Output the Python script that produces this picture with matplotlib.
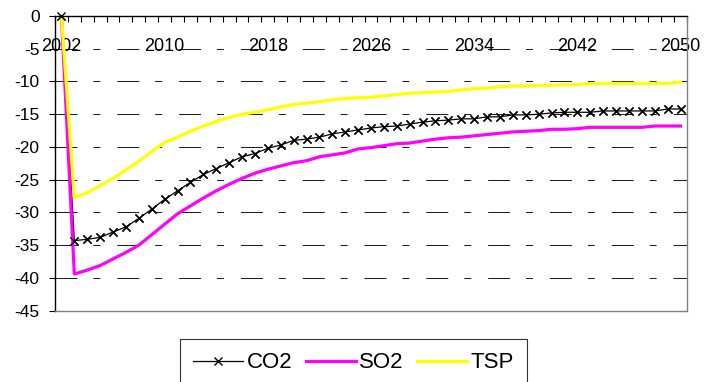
import matplotlib
matplotlib.use("Agg")
import matplotlib.pyplot as plt

plt.rcParams['font.family'] = ['Liberation Sans', 'DejaVu Sans']
plt.rcParams['axes.unicode_minus'] = False
plt.rcParams['lines.scale_dashes'] = False

years = list(range(2002, 2051))

co2 = [0, -34.3, -34.1, -33.8, -33.0, -32.2, -30.9, -29.5, -28.0, -26.7,
       -25.4, -24.2, -23.3, -22.4, -21.5, -21.0, -20.2, -19.7, -19.0, -18.8,
       -18.5, -18.0, -17.7, -17.4, -17.1, -16.9, -16.8, -16.5, -16.2, -16.0,
       -15.9, -15.7, -15.7, -15.4, -15.4, -15.1, -15.1, -15.0, -14.8, -14.7,
       -14.7, -14.7, -14.5, -14.5, -14.5, -14.5, -14.5, -14.2, -14.2]

so2 = [0, -39.4, -38.8, -38.1, -37.1, -36.1, -35.0, -33.4, -31.8, -30.2,
       -29.0, -27.8, -26.7, -25.7, -24.8, -24.0, -23.4, -22.9, -22.4, -22.1,
       -21.5, -21.2, -20.9, -20.3, -20.1, -19.8, -19.5, -19.4, -19.1, -18.8,
       -18.6, -18.5, -18.3, -18.1, -17.9, -17.7, -17.6, -17.5, -17.3, -17.3,
       -17.2, -17.0, -17.0, -17.0, -17.0, -17.0, -16.8, -16.8, -16.8]

tsp = [0, -27.7, -27.0, -25.9, -24.8, -23.5, -22.2, -20.7, -19.3, -18.5,
       -17.6, -16.8, -16.1, -15.5, -15.0, -14.7, -14.3, -13.9, -13.5, -13.3,
       -13.1, -12.8, -12.6, -12.5, -12.4, -12.2, -12.0, -11.8, -11.7, -11.6,
       -11.5, -11.3, -11.1, -11.0, -10.8, -10.7, -10.7, -10.6, -10.6, -10.5,
       -10.5, -10.3, -10.3, -10.3, -10.3, -10.3, -10.3, -10.3, -10.1]

x_tick_labels = ['2002', '2010', '2018', '2026', '2034', '2042', '2050']
y_ticks = [0, -5, -10, -15, -20, -25, -30, -35, -40, -45]
y_tick_labels = ['0', '-5', '-10', '-15', '-20', '-25', '-30', '-35', '-40', '-45']

W, H = 707, 382
fig = plt.figure(figsize=(W / 100, H / 100), dpi=100)
left, right, top, bottom = 55, 687, 16, 310.7
ax = fig.add_axes([left / W, 1 - bottom / H, (right - left) / W, (bottom - top) / H])

xpos = list(range(len(years)))
ax.plot(xpos, co2, color='black', lw=0.9, marker='x', markersize=6,
        markeredgewidth=1.0, label='CO2', zorder=3)
ax.plot(xpos, so2, color='#FF00FF', lw=2.3, label='SO2', zorder=4)
ax.plot(xpos, tsp, color='#FFFF00', lw=2.3, label='TSP', zorder=5)
# CO2 markers drawn on top (visible over the other series at the start)
ax.plot(xpos, co2, color='black', lw=0, marker='x', markersize=6,
        markeredgewidth=1.0, zorder=7, clip_on=False)

ax.set_xlim(-0.5, len(years) - 0.5)
ax.set_ylim(-45, 0)

# gridlines
for yv in y_ticks[1:-1]:
    ax.axhline(yv, color='#202020', lw=0.75, dashes=(15.8, 11.5, 5.0, 12.2), zorder=1)

# y axis
ax.set_yticks(y_ticks)
ax.set_yticklabels(y_tick_labels)
ax.tick_params(axis='y', direction='out', length=4, width=0.8, pad=7,
               labelsize=12.5, color='black')

# x axis on top (value 0)
label_idx = [years.index(int(s)) for s in x_tick_labels]
ax.set_xticks(label_idx)
ax.set_xticklabels(x_tick_labels)
ax.set_xticks([i - 0.5 for i in range(len(years) + 1)], minor=True)
ax.xaxis.set_ticks_position('top')
ax.tick_params(axis='x', which='major', length=0, pad=-28, labelsize=13,
               labeltop=True, labelbottom=False, top=True, bottom=False)
ax.tick_params(axis='x', which='minor', direction='in', length=4.5, width=0.8,
               top=True, bottom=False, color='black')

for s in ['top', 'left']:
    ax.spines[s].set_color('black')
    ax.spines[s].set_linewidth(1.0)
for s in ['right', 'bottom']:
    ax.spines[s].set_color('#808080')
    ax.spines[s].set_linewidth(1.0)
ax.spines['top'].set_zorder(6)

leg = fig.legend(loc='upper left', bbox_to_anchor=(180 / W, 1 - 339 / H),
                 ncol=3, fontsize=16, frameon=True, fancybox=False,
                 edgecolor='black', handlelength=2.25, handletextpad=0.15,
                 columnspacing=0.6, borderpad=0.6, borderaxespad=0)
leg.get_frame().set_linewidth(0.8)

fig.savefig('out.png', dpi=100)
